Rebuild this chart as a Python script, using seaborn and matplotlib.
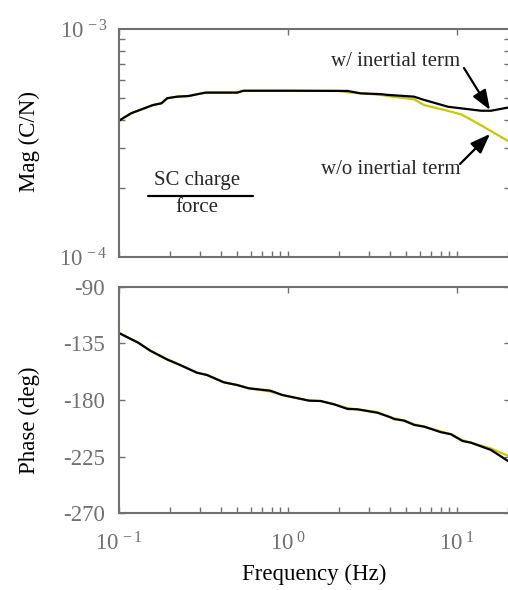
import numpy as np
import pandas as pd
import matplotlib
matplotlib.use("Agg")
import matplotlib.pyplot as plt
from matplotlib.ticker import NullFormatter
import seaborn as sns

# Charge/force frequency response of the SC model, with and without the inertial term
freq_mag = [0.100, 0.118, 0.159, 0.178, 0.193, 0.221, 0.257, 0.324, 0.501, 0.544,
            1.00, 2.25, 2.69, 3.54, 3.89, 5.56, 6.37, 8.85, 13.9, 15.9, 20.6]
mag_with = [3.96e-4, 4.27e-4, 4.64e-4, 4.72e-4, 4.97e-4, 5.05e-4, 5.08e-4, 5.26e-4, 5.26e-4, 5.36e-4,
            5.36e-4, 5.35e-4, 5.22e-4, 5.18e-4, 5.14e-4, 5.05e-4, 4.89e-4, 4.56e-4, 4.38e-4, 4.38e-4, 4.54e-4]

freq_mag_wo = [0.100, 0.118, 0.159, 0.178, 0.193, 0.221, 0.257, 0.324, 0.501, 0.544,
               1.00, 2.00, 2.25, 3.54, 3.89, 5.56, 6.37, 8.37, 10.6, 13.3, 20.6]
mag_without = [3.96e-4, 4.27e-4, 4.64e-4, 4.72e-4, 4.97e-4, 5.05e-4, 5.08e-4, 5.26e-4, 5.26e-4, 5.36e-4,
               5.36e-4, 5.35e-4, 5.28e-4, 5.14e-4, 5.08e-4, 4.92e-4, 4.64e-4, 4.42e-4, 4.22e-4, 3.85e-4, 3.19e-4]

freq_ph = [0.099, 0.130, 0.153, 0.192, 0.230, 0.289, 0.331, 0.416, 0.500, 0.585,
           0.787, 0.924, 1.33, 1.56, 1.87, 2.25, 2.57, 3.38, 3.96, 4.25, 4.87,
           5.58, 6.40, 8.04, 9.21, 10.8, 12.1, 15.9, 20.6]
phase_with = [-126.5, -134.5, -140.8, -147.7, -152.2, -158.3, -160.1, -165.9, -168.1, -170.7,
              -172.6, -176.0, -180.5, -180.8, -183.4, -187.1, -187.4, -190.1, -193.3, -195.1, -196.4,
              -199.8, -201.2, -205.6, -207.2, -212.6, -213.9, -219.7, -229.5]
phase_without = [-126.5, -134.5, -140.8, -147.7, -152.2, -158.3, -160.1, -165.9, -168.1, -170.7,
                 -173.3, -176.0, -180.5, -180.8, -183.4, -186.5, -187.4, -189.6, -193.3, -194.5, -196.4,
                 -199.3, -201.2, -205.0, -207.2, -212.0, -213.9, -218.5, -225.0]

mag_ticks = [1e-4, 1e-3]
mag_ticklabels = [r"$\mathregular{10^{\,-4}}$", r"$\mathregular{10^{\,-3}}$"]
phase_ticks = [-270, -225, -180, -135, -90]
freq_ticks = [0.1, 1, 10]
freq_ticklabels = [r"$\mathregular{10^{\,-1}}$", r"$\mathregular{10^{\;0}}$", r"$\mathregular{10^{\;1}}$"]

sns.set_style("ticks")
plt.rcParams["font.family"] = ["Liberation Serif", "DejaVu Serif"]
plt.rcParams["mathtext.fontset"] = "custom"
plt.rcParams["mathtext.rm"] = "Liberation Serif"
plt.rcParams["mathtext.it"] = "Liberation Serif:italic"

GRAY = "#707070"
YELLOW = "#c8c800"
FS = 16.5

fig = plt.figure(figsize=(5.08, 5.90), dpi=100)
W, H = 508.0, 590.0
x0, x1 = 119, 510


def fx(px):
    return px / W


def fy(py):
    return 1 - py / H


ax1 = fig.add_axes([fx(x0), fy(257), (x1 - x0) / W, 228 / H])
ax2 = fig.add_axes([fx(x0), fy(513.3), (x1 - x0) / W, 226.6 / H])

df_mag_w = pd.DataFrame({"f": freq_mag, "v": mag_with})
df_mag_wo = pd.DataFrame({"f": freq_mag_wo, "v": mag_without})
df_ph_w = pd.DataFrame({"f": freq_ph, "v": phase_with})
df_ph_wo = pd.DataFrame({"f": freq_ph, "v": phase_without})

sns.lineplot(data=df_mag_wo, x="f", y="v", ax=ax1, color=YELLOW, lw=1.6, sort=False)
sns.lineplot(data=df_mag_w, x="f", y="v", ax=ax1, color="black", lw=1.6, sort=False)
sns.lineplot(data=df_ph_wo, x="f", y="v", ax=ax2, color=YELLOW, lw=1.6, sort=False)
sns.lineplot(data=df_ph_w, x="f", y="v", ax=ax2, color="black", lw=1.6, sort=False)

for ax in (ax1, ax2):
    ax.set_xscale("log")
    ax.set_xlim(0.1, 10 ** (-1 + (x1 - x0) / 169.0))
    ax.spines["right"].set_visible(False)
    for s in ("left", "top", "bottom"):
        ax.spines[s].set_color(GRAY)
        ax.spines[s].set_linewidth(1.5)
    ax.set_xticks(freq_ticks)
    ax.xaxis.set_minor_formatter(NullFormatter())
    ax.tick_params(axis="both", which="both", direction="in", color=GRAY,
                   labelcolor=GRAY, labelsize=FS, width=1.0)
    ax.tick_params(axis="x", which="major", top=True, bottom=True, length=4)
    ax.tick_params(axis="x", which="minor", top=False, bottom=True, length=4)
    ax.tick_params(axis="y", which="both", left=True, right=True, length=4)

# magnitude panel
ax1.set_yscale("log")
ax1.set_ylim(1e-4, 1e-3)
ax1.set_yticks(mag_ticks)
ax1.set_yticklabels(mag_ticklabels)
ax1.yaxis.set_minor_formatter(NullFormatter())
ax1.tick_params(axis="y", which="major", length=0, pad=8)
ax1.set_xticklabels([])
ax1.set_xlabel("")
ax1.set_ylabel("Mag (C/N)", fontsize=FS, color="black")

# transfer-function legend: charge over force
fig.text(fx(197), fy(180), "SC charge", fontsize=15, ha="center", va="center")
fig.text(fx(197), fy(208), "force", fontsize=15, ha="center", va="center")
fig.add_artist(plt.Line2D([fx(148), fx(253)], [fy(196), fy(196)],
                          transform=fig.transFigure, color="black", lw=1.6))

arrow_kw = dict(arrowstyle="-|>,head_length=1.2,head_width=0.45", color="black", lw=1.6,
                shrinkA=0, shrinkB=0)
fig.text(fx(396), fy(62), "w/ inertial term", fontsize=15, ha="center", va="center")
fig.text(fx(391), fy(170), "w/o inertial term", fontsize=15, ha="center", va="center")
ax1.annotate("", xy=(fx(490), fy(110)), xycoords="figure fraction",
             xytext=(fx(464), fy(68)), textcoords="figure fraction", arrowprops=arrow_kw)
ax1.annotate("", xy=(fx(490), fy(134)), xycoords="figure fraction",
             xytext=(fx(460), fy(164)), textcoords="figure fraction", arrowprops=arrow_kw)

# phase panel
ax2.set_ylim(-270, -90)
ax2.set_yticks(phase_ticks)
ax2.set_yticklabels([str(t) for t in phase_ticks])
ax2.tick_params(axis="y", which="major", pad=10)
ax2.set_xticklabels(freq_ticklabels)
ax2.tick_params(axis="x", which="major", pad=14)
ax2.set_xlabel("Frequency (Hz)", fontsize=FS, color="black", labelpad=6)
ax2.set_ylabel("Phase (deg)", fontsize=FS, color="black")

ax1.yaxis.set_label_coords(fx(40), fy(141), transform=fig.transFigure)
ax2.yaxis.set_label_coords(fx(40), fy(420), transform=fig.transFigure)

fig.savefig("out.png", dpi=100)
